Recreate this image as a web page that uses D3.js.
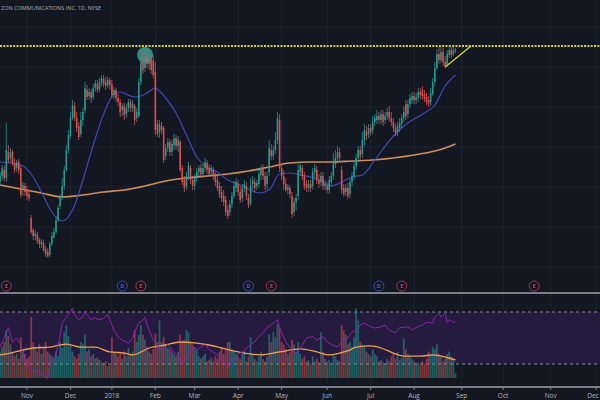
<!DOCTYPE html>
<html>
<head>
<meta charset="utf-8">
<title>Verizon Communications Inc, 1D, NYSE</title>
<style>
  body { margin: 0; background: #131722; }
  svg { display: block; }
  text { font-family: 'Open Sans', 'DejaVu Sans', sans-serif; }
</style>
</head>
<body>
<div id="chart"></div>
<script src="https://d3js.org/d3.v7.min.js"></script>
<script>
// daily bars, index 0 = 13 Oct 2017
var open = [48.25,48.55,48.85,48.45,49.75,49.45,49.75,49.20,48.95,49.25,
  48.95,47.85,48.05,47.85,47.65,46.45,45.85,45.55,45.60,45.35,
  45.15,45.20,44.90,44.75,44.60,45.15,45.50,45.75,46.35,47.05,
  47.45,48.05,48.85,49.85,50.55,51.45,52.05,51.45,51.05,50.65,
  51.35,51.85,52.85,52.55,52.75,52.50,52.95,53.15,52.90,53.25,
  53.40,53.25,53.10,53.35,53.15,52.60,52.85,52.45,52.25,51.85,
  52.05,51.65,51.95,52.25,51.95,52.05,51.45,51.55,53.25,54.25,
  53.95,54.55,54.15,54.35,54.35,53.75,51.15,50.75,51.05,50.95,
  49.55,49.95,50.25,49.75,50.10,50.45,50.05,50.25,48.95,48.35,
  48.05,48.55,48.95,48.35,48.05,48.45,48.75,48.95,48.65,48.95,
  49.20,48.95,48.75,48.85,48.55,48.35,48.05,47.75,47.55,47.35,
  46.85,46.75,47.15,47.55,47.95,48.15,47.75,47.45,47.95,48.05,
  47.45,47.20,48.15,48.25,48.05,48.15,48.60,48.95,48.55,48.15,
  48.75,49.85,49.55,49.85,50.35,51.35,48.95,48.55,48.15,47.85,
  47.95,47.55,46.75,47.25,47.55,48.75,48.95,48.55,48.15,47.95,
  48.15,48.05,48.75,48.85,48.35,48.25,48.55,48.05,48.05,47.85,
  48.25,48.55,49.15,49.45,49.75,48.85,47.95,47.75,47.95,47.65,
  48.25,48.55,49.05,49.45,49.85,49.65,50.35,50.75,50.65,50.95,
  50.85,51.25,51.35,51.55,51.35,51.65,51.35,51.55,51.75,51.45,
  51.25,50.95,50.75,50.95,51.15,51.45,52.15,51.65,52.15,52.35,
  52.55,52.35,52.45,52.75,52.85,52.65,52.50,52.35,52.25,52.65,
  53.25,53.95,54.65,54.35,54.75,54.25,54.15,54.60,54.85,54.65,
  54.80];
var high = [48.75,49.10,49.05,51.20,50.10,49.95,49.85,49.45,49.35,49.40,
  49.10,48.25,48.20,48.05,47.85,46.60,45.95,45.85,45.75,45.45,
  45.40,45.35,45.05,44.95,45.25,45.75,45.95,46.55,47.10,47.65,
  48.45,49.05,50.10,50.85,51.75,52.35,52.25,51.75,51.25,51.75,
  51.95,53.25,53.10,52.95,52.90,53.15,53.35,53.35,53.45,53.60,
  53.60,53.50,53.50,53.45,53.35,53.00,52.95,52.65,52.40,52.20,
  52.20,52.15,52.40,52.40,52.35,52.15,51.95,53.45,54.55,54.75,
  55.00,54.75,54.60,54.55,54.60,54.25,51.35,51.35,51.25,51.05,
  50.15,50.45,50.40,50.35,50.65,50.60,50.55,50.35,49.10,48.55,
  48.75,49.25,49.10,48.55,48.65,48.95,49.10,49.15,49.15,49.45,
  49.35,49.15,49.10,49.00,48.75,48.55,48.25,48.05,47.85,47.55,
  47.10,47.35,47.75,48.30,48.45,48.35,48.05,48.15,48.35,48.25,
  47.65,48.45,48.55,48.45,48.35,48.95,49.10,49.15,48.75,48.75,
  50.35,50.15,50.05,50.75,51.75,51.65,49.15,48.85,48.45,48.15,
  48.10,47.75,47.45,47.65,49.15,49.25,49.10,48.75,48.35,48.35,
  48.35,48.95,49.15,49.05,48.65,48.75,48.75,48.35,48.25,48.55,
  48.75,49.70,49.85,50.05,49.95,49.05,48.15,48.15,48.20,48.45,
  48.75,49.25,49.65,50.05,50.05,50.75,51.15,51.05,51.15,51.15,
  51.55,51.65,51.85,51.75,51.85,51.85,51.75,51.95,52.05,51.75,
  51.45,51.15,51.25,51.45,51.65,52.05,52.35,52.35,52.65,52.75,
  52.75,52.70,52.95,52.95,53.05,52.85,52.70,52.55,52.95,53.45,
  54.25,54.90,55.00,55.00,54.95,54.55,54.85,55.05,55.00,55.00,
  54.95];
var low = [48.10,48.35,48.30,48.25,49.20,49.25,49.05,48.70,48.75,48.65,
  47.45,47.55,47.55,47.35,47.30,45.65,45.35,45.35,45.15,44.95,
  44.95,44.75,44.50,44.45,44.50,45.05,45.40,45.65,46.25,46.90,
  47.35,47.85,48.75,49.70,50.45,51.35,51.30,50.75,50.35,50.50,
  51.05,51.70,52.35,52.35,52.20,52.35,52.75,52.70,52.75,53.05,
  53.00,52.85,52.95,52.85,52.45,52.40,52.25,52.05,51.50,51.55,
  51.35,51.45,51.75,51.75,51.75,51.10,51.25,51.45,53.10,53.65,
  53.75,53.95,53.85,53.65,53.45,50.60,50.50,50.45,50.65,49.20,
  49.35,49.75,49.55,49.55,49.85,49.85,49.75,48.75,48.10,47.75,
  47.85,48.35,48.15,47.85,47.85,48.25,48.55,48.45,48.45,48.75,
  48.65,48.50,48.55,48.35,48.05,47.80,47.45,47.25,47.05,46.55,
  46.40,46.55,46.95,47.45,47.75,47.55,47.20,47.25,47.75,47.35,
  46.95,47.05,47.85,47.75,47.85,47.95,48.35,48.35,47.85,47.85,
  48.55,49.35,49.35,49.65,50.15,48.75,48.35,47.85,47.75,47.65,
  47.45,46.45,46.55,46.85,47.35,48.55,48.35,47.85,47.75,47.75,
  47.75,47.85,48.45,48.15,47.95,48.05,47.85,47.85,47.70,47.65,
  48.05,48.35,48.95,49.25,49.25,47.65,47.50,47.55,47.40,47.45,
  48.05,48.35,48.85,49.25,49.35,49.45,50.05,50.35,50.45,50.55,
  50.65,51.05,51.15,51.15,51.15,51.05,51.15,51.35,51.25,51.05,
  50.75,50.55,50.55,50.75,50.95,51.25,51.35,51.45,51.95,52.15,
  52.15,52.15,52.25,52.40,52.35,52.25,52.10,52.00,52.05,52.55,
  53.05,53.85,54.15,54.20,54.05,53.95,54.00,54.45,54.45,54.55,
  54.70];
var close = [48.55,48.95,48.45,49.85,49.35,49.75,49.20,48.85,49.25,48.85,
  47.60,48.10,47.75,47.55,47.45,45.75,45.55,45.70,45.30,45.15,
  45.25,44.85,44.65,44.55,45.15,45.55,45.75,46.35,46.95,47.45,
  48.05,48.85,49.85,50.60,51.45,52.10,51.45,50.95,50.50,51.35,
  51.75,52.95,52.50,52.75,52.45,52.95,53.20,52.85,53.25,53.45,
  53.15,53.05,53.35,53.10,52.60,52.85,52.45,52.25,51.75,52.05,
  51.60,51.95,52.25,51.95,52.15,51.35,51.75,53.25,54.25,53.85,
  54.55,54.15,54.35,53.85,53.60,50.85,50.65,51.15,50.85,49.35,
  49.95,50.25,49.75,50.15,50.45,50.05,50.35,48.85,48.25,47.95,
  48.55,49.05,48.35,48.05,48.45,48.75,48.95,48.65,48.95,49.25,
  48.85,48.65,48.95,48.55,48.25,47.95,47.65,47.45,47.25,46.75,
  46.55,47.15,47.55,48.05,48.25,47.75,47.35,47.95,48.15,47.55,
  47.10,48.10,48.35,47.95,48.20,48.65,48.95,48.55,48.05,48.55,
  49.95,49.55,49.85,50.35,51.45,48.95,48.55,48.15,47.85,48.00,
  47.65,46.65,47.25,47.45,48.85,49.05,48.55,48.05,47.95,48.15,
  47.95,48.75,48.95,48.35,48.15,48.55,48.05,48.15,47.85,48.35,
  48.55,49.15,49.45,49.75,49.45,47.85,47.65,47.95,47.55,48.25,
  48.55,49.05,49.45,49.85,49.55,50.35,50.85,50.55,50.95,50.75,
  51.25,51.45,51.55,51.35,51.65,51.25,51.55,51.75,51.45,51.25,
  50.95,50.70,51.05,51.20,51.45,51.75,51.55,52.15,52.45,52.55,
  52.35,52.50,52.75,52.60,52.55,52.40,52.25,52.15,52.70,53.25,
  53.95,54.65,54.35,54.75,54.25,54.05,54.65,54.85,54.60,54.85,
  54.85];
// volume, millions
var volume = [22,26,30,40,35,28,22,18,20,16, 34,24,20,16,18,51,30,24,22,28,
  20,25,30,22,20,18,16,22,18,30, 25,38,44,35,28,22,18,16,20,30,
  28,36,22,24,18,20,16,17,15,13, 12,14,10,11,34,22,20,18,20,16,
  22,18,25,20,22,40,30,36,44,36, 32,26,22,20,24,37,30,48,30,34,
  28,25,24,22,20,18,22,36,30,32, 40,38,30,28,26,24,18,16,18,20,
  14,15,17,14,18,16,22,25,20,24, 30,30,24,22,20,18,16,20,22,14,
  18,34,20,16,14,18,22,16,14,18, 36,30,38,34,45,42,30,28,24,20,
  22,32,28,22,30,20,16,18,14,15, 12,18,14,16,13,38,22,16,14,15,
  12,20,18,15,14,44,40,36,28,30, 26,34,58,48,30,28,26,22,20,18,
  24,20,18,14,15,13,12,16,14,18, 20,16,22,15,17,33,24,20,18,16,
  14,12,13,11,14,12,16,22,20,26, 24,28,20,18,14,16,20,22,18,15,
  4];

// moving averages (bar index, value)
var fastMaBar = [0,5,10,15,20,25,30,35,40,45,50,55,58,63,65,68,71,75,77,80,85,90,95,100,105,110,115,120,125,130,135,140,145,150,155,160,165,170,175,180,185,190,195,200,205,210,215,220];
var fastMa = [49.25,49.20,49.10,48.65,47.75,46.75,46.30,46.85,48.35,50.10,51.65,52.65,52.75,52.55,52.50,52.55,52.70,52.95,52.80,52.45,51.70,50.60,49.50,49.00,48.75,48.35,48.15,47.90,47.70,47.85,48.65,48.70,48.60,48.50,48.30,48.05,48.25,48.50,48.60,49.20,49.90,50.55,51.05,51.40,51.70,52.10,53.05,53.60];
var slowMaBar = [0,10,20,30,40,50,60,70,80,90,100,110,120,130,140,150,160,170,180,190,200,210,215,220];
var slowMa = [48.10,47.90,47.70,47.50,47.60,47.75,47.85,48.05,48.30,48.45,48.55,48.65,48.80,49.00,49.20,49.25,49.25,49.30,49.35,49.45,49.60,49.80,49.95,50.15];

var volMaBar = [0,5,16,24,32,39,46,53,60,64,72,80,87,94,101,111,118,126,135,145,153,159,164,169,172,179,184,190,195,203,209,215,220];
var volMa = [19.2,20.8,25.0,25.8,28.3,25.8,25.8,21.7,20.8,19.2,25.0,27.5,30.0,29.2,27.5,23.3,20.8,19.2,21.7,24.2,21.7,19.2,20.8,23.3,25.8,26.7,25.0,20.8,18.3,18.3,19.2,17.5,15.0];

var rsiBar = [0,4,5,6,8,10,12,14,16,18,20,23,24,27,29,30,32,34,35,36,38,40,41,43,44,46,47,50,52,53,55,57,59,62,64,65,67,69,70,71,74,76,77,79,81,83,86,88,90,93,95,97,99,101,105,108,110,113,115,117,121,123,125,127,129,132,134,135,138,140,143,145,148,151,153,156,158,160,163,165,168,170,172,174,176,179,181,184,186,188,191,193,197,199,201,204,206,209,210,212,213,215,216,217,219,220];
var rsi = [43,58,52,47,50,45,33,28,24,25,21.5,19,28,38,52,61.5,66,70,73,68,64,66,70,66,64,66,64,65,68,64,56,51,48.5,46,50,54.6,61.5,64,66,60,48.5,45,41,42,45,41,35.5,29,35,43,41,43,45,41,37,31.5,27,33,38,39,45,47,51,54,58,61.5,64,58,47,43,38,42,50,51,48.5,51,47,45,43,47,50,54.6,56,60,61.5,58.5,57.7,58.5,60,56,54,58,58.5,56,58,60,62,61.5,66,69,66,69,62,64,62,63];

var eventBar = [3,59,68,120,131,183,194,258];
var eventType = ["E","D","E","D","E","D","E","E"];

var peakLevel = 55.05;
var trendBar = [215, 227.5];
var trendPrice = [54.0, 55.05];
var markBar = 70, markPrice = 54.6;

var tickLabels = ["Nov","Dec","2018","Feb","Mar","Apr","May","Jun","Jul","Aug","Sep","Oct","Nov","Dec"];
var tickBar = [13,34,54,75,94,115,136,158,179,200,223,243,266,288];

var title = "ZON COMMUNICATIONS INC, 1D, NYSE";

var width = 600, height = 400;
var upColor = "#26a69a", downColor = "#ef5350";

var svg = d3.select("#chart").append("svg")
    .attr("width", width)
    .attr("height", height);

svg.append("rect").attr("width", width).attr("height", height).attr("fill", "#131722");

var x = d3.scaleLinear().domain([0, 290]).range([0.1, 600.4]);
var y = d3.scaleLinear().domain([57.35, 42.75]).range([0, 292]);
var yVol = d3.scaleLinear().domain([0, 70]).range([378, 294]);
var yRsi = d3.scaleLinear().domain([30, 70]).range([364, 312]);

// grid
svg.append("g").selectAll("line").data(y.ticks(8)).enter().append("line")
    .attr("x1", 0).attr("x2", width)
    .attr("y1", function(d){ return y(d); }).attr("y2", function(d){ return y(d); })
    .attr("stroke", "#1d2230").attr("stroke-width", 1);
svg.append("g").selectAll("line").data(tickBar).enter().append("line")
    .attr("x1", function(d){ return x(d); }).attr("x2", function(d){ return x(d); })
    .attr("y1", 0).attr("y2", 386)
    .attr("stroke", "#1d2230").attr("stroke-width", 1);

// title
svg.append("text")
    .attr("x", 1).attr("y", 10)
    .attr("textLength", 100).attr("lengthAdjust", "spacingAndGlyphs")
    .style("font-size", "5.5px").style("fill", "#a9acb5")
    .text(title);

// resistance level
svg.append("line")
    .attr("x1", 0).attr("x2", width)
    .attr("y1", y(peakLevel)).attr("y2", y(peakLevel))
    .attr("stroke", "#d8d526").attr("stroke-width", 2)
    .attr("stroke-dasharray", "2,1.3");

// highlight circle at January high
svg.append("circle")
    .attr("cx", x(markBar)).attr("cy", y(markPrice)).attr("r", 8)
    .attr("fill", "#3fa89c").attr("opacity", 0.8);

var bars = d3.range(close.length);

// moving averages
var line = d3.line().curve(d3.curveMonotoneX)
    .x(function(d){ return x(d[0]); })
    .y(function(d){ return y(d[1]); });
svg.append("path")
    .attr("d", line(d3.zip(slowMaBar, slowMa)))
    .attr("fill", "none").attr("stroke", "#d08e58").attr("stroke-width", 1.6);
svg.append("path")
    .attr("d", line(d3.zip(fastMaBar, fastMa)))
    .attr("fill", "none").attr("stroke", "#3f4bb4").attr("stroke-width", 1.2);

// candles
var candles = svg.append("g").attr("opacity", 0.9)
    .selectAll("g").data(bars).enter().append("g");
candles.append("line")
    .attr("x1", function(i){ return x(i); }).attr("x2", function(i){ return x(i); })
    .attr("y1", function(i){ return y(high[i]); }).attr("y2", function(i){ return y(low[i]); })
    .attr("stroke", function(i){ return close[i] >= open[i] ? upColor : downColor; })
    .attr("stroke-width", 0.8);
candles.append("rect")
    .attr("x", function(i){ return x(i) - 0.8; })
    .attr("width", 1.6)
    .attr("y", function(i){ return y(Math.max(open[i], close[i])); })
    .attr("height", function(i){ return Math.max(0.8, Math.abs(y(open[i]) - y(close[i]))); })
    .attr("fill", function(i){ return close[i] >= open[i] ? upColor : downColor; });

// trend line
svg.append("line")
    .attr("x1", x(trendBar[0])).attr("y1", y(trendPrice[0]))
    .attr("x2", x(trendBar[1])).attr("y2", y(trendPrice[1]))
    .attr("stroke", "#d8d526").attr("stroke-width", 1.3);

// earnings / dividend markers
var ev = svg.append("g").selectAll("g").data(eventBar).enter().append("g");
ev.append("circle")
    .attr("cx", function(d){ return x(d); }).attr("cy", 286).attr("r", 5)
    .attr("fill", "#131722")
    .attr("stroke", function(d, i){ return eventType[i] == "E" ? "#a8344a" : "#3949ab"; })
    .attr("stroke-width", 1);
ev.append("text")
    .attr("x", function(d){ return x(d); }).attr("y", 288)
    .attr("text-anchor", "middle")
    .style("font-size", "5.5px").style("font-weight", "bold")
    .style("fill", function(d, i){ return eventType[i] == "E" ? "#c0405a" : "#4a5cc0"; })
    .text(function(d, i){ return eventType[i]; });

// lower pane: RSI band, volume, volume MA, RSI
svg.append("rect")
    .attr("x", 0).attr("width", width)
    .attr("y", yRsi(70)).attr("height", yRsi(30) - yRsi(70))
    .attr("fill", "#241b3e");
svg.append("g").selectAll("line").data([70, 30]).enter().append("line")
    .attr("x1", 0).attr("x2", width)
    .attr("y1", function(d){ return yRsi(d); }).attr("y2", function(d){ return yRsi(d); })
    .attr("stroke", "#8a8d96").attr("stroke-width", 1)
    .attr("stroke-dasharray", "3,3");

svg.append("g").selectAll("rect").data(bars).enter().append("rect")
    .attr("x", function(i){ return x(i) - 0.9; })
    .attr("width", 1.8)
    .attr("y", function(i){ return yVol(volume[i]); })
    .attr("height", function(i){ return yVol(0) - yVol(volume[i]); })
    .attr("fill", function(i){ return close[i] >= open[i] ? upColor : downColor; })
    .attr("opacity", 0.5);

var volLine = d3.line().curve(d3.curveMonotoneX)
    .x(function(d){ return x(d[0]); })
    .y(function(d){ return yVol(d[1]); });
svg.append("path")
    .attr("d", volLine(d3.zip(volMaBar, volMa)))
    .attr("fill", "none").attr("stroke", "#f0a050").attr("stroke-width", 1.3);

var rsiLine = d3.line()
    .x(function(d){ return x(d[0]); })
    .y(function(d){ return yRsi(d[1]); });
svg.append("path")
    .attr("d", rsiLine(d3.zip(rsiBar, rsi)))
    .attr("fill", "none").attr("stroke", "#8e24aa").attr("stroke-width", 1);

// pane separators
svg.append("g").selectAll("line").data([293, 387]).enter().append("line")
    .attr("x1", 0).attr("x2", width)
    .attr("y1", function(d){ return d; }).attr("y2", function(d){ return d; })
    .attr("stroke", "#7c7f89").attr("stroke-width", 2);

// time axis
var axis = svg.append("g").selectAll("g").data(tickBar).enter().append("g");
axis.append("line")
    .attr("x1", function(d){ return x(d); }).attr("x2", function(d){ return x(d); })
    .attr("y1", 388).attr("y2", 390)
    .attr("stroke", "#7c7f89");
axis.append("text")
    .attr("x", function(d){ return Math.min(x(d), width - 7); }).attr("y", 397.5)
    .attr("text-anchor", "middle")
    .style("font-size", "6.5px").style("fill", "#b2b5be")
    .text(function(d, i){ return tickLabels[i]; });
</script>
</body>
</html>
